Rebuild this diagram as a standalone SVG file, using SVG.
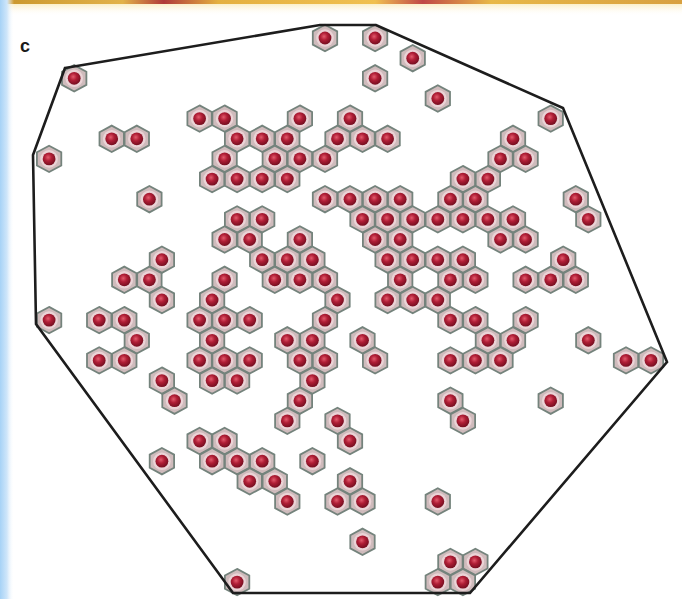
<svg xmlns="http://www.w3.org/2000/svg" xmlns:xlink="http://www.w3.org/1999/xlink" width="682" height="599" viewBox="0 0 682 599">
<style>
.hx{fill:#cfbbbc;stroke:#74837c;stroke-width:1.8}
.ring{fill:#ebd3d6}
.dot{fill:url(#dg)}
.hull{fill:none;stroke:#1d1d1d;stroke-width:2.6;stroke-linejoin:miter}
.lbl{font-family:"Liberation Sans",Arial,sans-serif;font-weight:bold;font-size:18px;fill:#1a1a1a}
</style>
<defs>
<radialGradient id="dg" cx="0.42" cy="0.38" r="0.62">
<stop offset="0" stop-color="#e25a6c"/>
<stop offset="0.45" stop-color="#b01e36"/>
<stop offset="1" stop-color="#760e20"/>
</radialGradient>
<linearGradient id="top" x1="0" y1="0" x2="1" y2="0">
<stop offset="0" stop-color="#c9962c"/>
<stop offset="0.18" stop-color="#e2b24a"/>
<stop offset="0.24" stop-color="#b03a3a"/>
<stop offset="0.32" stop-color="#e4b040"/>
<stop offset="0.55" stop-color="#f0c050"/>
<stop offset="0.62" stop-color="#c04848"/>
<stop offset="0.72" stop-color="#e8b848"/>
<stop offset="1" stop-color="#d8a040"/>
</linearGradient>
<linearGradient id="topfade" x1="0" y1="0" x2="0" y2="1">
<stop offset="0" stop-color="#fbefc8"/>
<stop offset="1" stop-color="#ffffff" stop-opacity="0"/>
</linearGradient>
<linearGradient id="leftfade" x1="0" y1="0" x2="1" y2="0">
<stop offset="0" stop-color="#a6d2f6"/>
<stop offset="0.5" stop-color="#cfe6fa"/>
<stop offset="1" stop-color="#ffffff" stop-opacity="0"/>
</linearGradient>
<g id="h">
<polygon class="hx" points="0,-13.2 12.2,-6.6 12.2,6.6 0,13.2 -12.2,6.6 -12.2,-6.6"/>
<circle class="ring" r="8.8"/>
<circle class="dot" r="6.4"/>
</g>
</defs>
<rect width="682" height="599" fill="#ffffff"/>
<rect x="0" y="0" width="682" height="4" fill="url(#top)"/>
<rect x="0" y="4" width="682" height="12" fill="url(#topfade)"/>
<rect x="0" y="0" width="14" height="599" fill="url(#leftfade)"/>
<text class="lbl" x="20" y="52">c</text>
<g id="cells">
<g transform="translate(0,38)"><use href="#h" x="325"/><use href="#h" x="375.1"/></g>
<g transform="translate(0,58.2)"><use href="#h" x="412.7"/></g>
<g transform="translate(0,78.3)"><use href="#h" x="74.2"/><use href="#h" x="375.1"/></g>
<g transform="translate(0,98.5)"><use href="#h" x="437.8"/></g>
<g transform="translate(0,118.6)"><use href="#h" x="199.6"/><use href="#h" x="224.6"/><use href="#h" x="299.9"/><use href="#h" x="350"/><use href="#h" x="550.7"/></g>
<g transform="translate(0,138.8)"><use href="#h" x="111.7"/><use href="#h" x="136.8"/><use href="#h" x="237.1"/><use href="#h" x="262.2"/><use href="#h" x="287.3"/><use href="#h" x="337.5"/><use href="#h" x="362.5"/><use href="#h" x="387.6"/><use href="#h" x="513"/></g>
<g transform="translate(0,158.9)"><use href="#h" x="49.1"/><use href="#h" x="224.6"/><use href="#h" x="274.8"/><use href="#h" x="299.9"/><use href="#h" x="325"/><use href="#h" x="500.5"/><use href="#h" x="525.6"/></g>
<g transform="translate(0,179.1)"><use href="#h" x="212.1"/><use href="#h" x="237.1"/><use href="#h" x="262.2"/><use href="#h" x="287.3"/><use href="#h" x="462.9"/><use href="#h" x="487.9"/></g>
<g transform="translate(0,199.2)"><use href="#h" x="149.4"/><use href="#h" x="325"/><use href="#h" x="350"/><use href="#h" x="375.1"/><use href="#h" x="400.2"/><use href="#h" x="450.4"/><use href="#h" x="475.4"/><use href="#h" x="575.8"/></g>
<g transform="translate(0,219.4)"><use href="#h" x="237.1"/><use href="#h" x="262.2"/><use href="#h" x="362.5"/><use href="#h" x="387.6"/><use href="#h" x="412.7"/><use href="#h" x="437.8"/><use href="#h" x="462.9"/><use href="#h" x="487.9"/><use href="#h" x="513"/><use href="#h" x="588.3"/></g>
<g transform="translate(0,239.5)"><use href="#h" x="224.6"/><use href="#h" x="249.7"/><use href="#h" x="299.9"/><use href="#h" x="375.1"/><use href="#h" x="400.2"/><use href="#h" x="500.5"/><use href="#h" x="525.6"/></g>
<g transform="translate(0,259.7)"><use href="#h" x="161.9"/><use href="#h" x="262.2"/><use href="#h" x="287.3"/><use href="#h" x="312.4"/><use href="#h" x="387.6"/><use href="#h" x="412.7"/><use href="#h" x="437.8"/><use href="#h" x="462.9"/><use href="#h" x="563.2"/></g>
<g transform="translate(0,279.8)"><use href="#h" x="124.3"/><use href="#h" x="149.4"/><use href="#h" x="224.6"/><use href="#h" x="274.8"/><use href="#h" x="299.9"/><use href="#h" x="325"/><use href="#h" x="400.2"/><use href="#h" x="450.4"/><use href="#h" x="475.4"/><use href="#h" x="525.6"/><use href="#h" x="550.7"/><use href="#h" x="575.8"/></g>
<g transform="translate(0,300)"><use href="#h" x="161.9"/><use href="#h" x="212.1"/><use href="#h" x="337.5"/><use href="#h" x="387.6"/><use href="#h" x="412.7"/><use href="#h" x="437.8"/></g>
<g transform="translate(0,320.1)"><use href="#h" x="49.1"/><use href="#h" x="99.2"/><use href="#h" x="124.3"/><use href="#h" x="199.6"/><use href="#h" x="224.6"/><use href="#h" x="249.7"/><use href="#h" x="325"/><use href="#h" x="450.4"/><use href="#h" x="475.4"/><use href="#h" x="525.6"/></g>
<g transform="translate(0,340.3)"><use href="#h" x="136.8"/><use href="#h" x="212.1"/><use href="#h" x="287.3"/><use href="#h" x="312.4"/><use href="#h" x="362.5"/><use href="#h" x="487.9"/><use href="#h" x="513"/><use href="#h" x="588.3"/></g>
<g transform="translate(0,360.4)"><use href="#h" x="99.2"/><use href="#h" x="124.3"/><use href="#h" x="199.6"/><use href="#h" x="224.6"/><use href="#h" x="249.7"/><use href="#h" x="299.9"/><use href="#h" x="325"/><use href="#h" x="375.1"/><use href="#h" x="450.4"/><use href="#h" x="475.4"/><use href="#h" x="500.5"/><use href="#h" x="626"/><use href="#h" x="651"/></g>
<g transform="translate(0,380.6)"><use href="#h" x="161.9"/><use href="#h" x="212.1"/><use href="#h" x="237.1"/><use href="#h" x="312.4"/></g>
<g transform="translate(0,400.7)"><use href="#h" x="174.5"/><use href="#h" x="299.9"/><use href="#h" x="450.4"/><use href="#h" x="550.7"/></g>
<g transform="translate(0,420.9)"><use href="#h" x="287.3"/><use href="#h" x="337.5"/><use href="#h" x="462.9"/></g>
<g transform="translate(0,441)"><use href="#h" x="199.6"/><use href="#h" x="224.6"/><use href="#h" x="350"/></g>
<g transform="translate(0,461.2)"><use href="#h" x="161.9"/><use href="#h" x="212.1"/><use href="#h" x="237.1"/><use href="#h" x="262.2"/><use href="#h" x="312.4"/></g>
<g transform="translate(0,481.3)"><use href="#h" x="249.7"/><use href="#h" x="274.8"/><use href="#h" x="350"/></g>
<g transform="translate(0,501.5)"><use href="#h" x="287.3"/><use href="#h" x="337.5"/><use href="#h" x="362.5"/><use href="#h" x="437.8"/></g>
<g transform="translate(0,541.8)"><use href="#h" x="362.5"/></g>
<g transform="translate(0,561.9)"><use href="#h" x="450.4"/><use href="#h" x="475.4"/></g>
<g transform="translate(0,582.1)"><use href="#h" x="237.1"/><use href="#h" x="437.8"/><use href="#h" x="462.9"/></g>
</g>
<polygon class="hull" points="65,68 320,25 376,25 563,108 667,362 470,593 233,593 36,324 33,155"/>
</svg>
